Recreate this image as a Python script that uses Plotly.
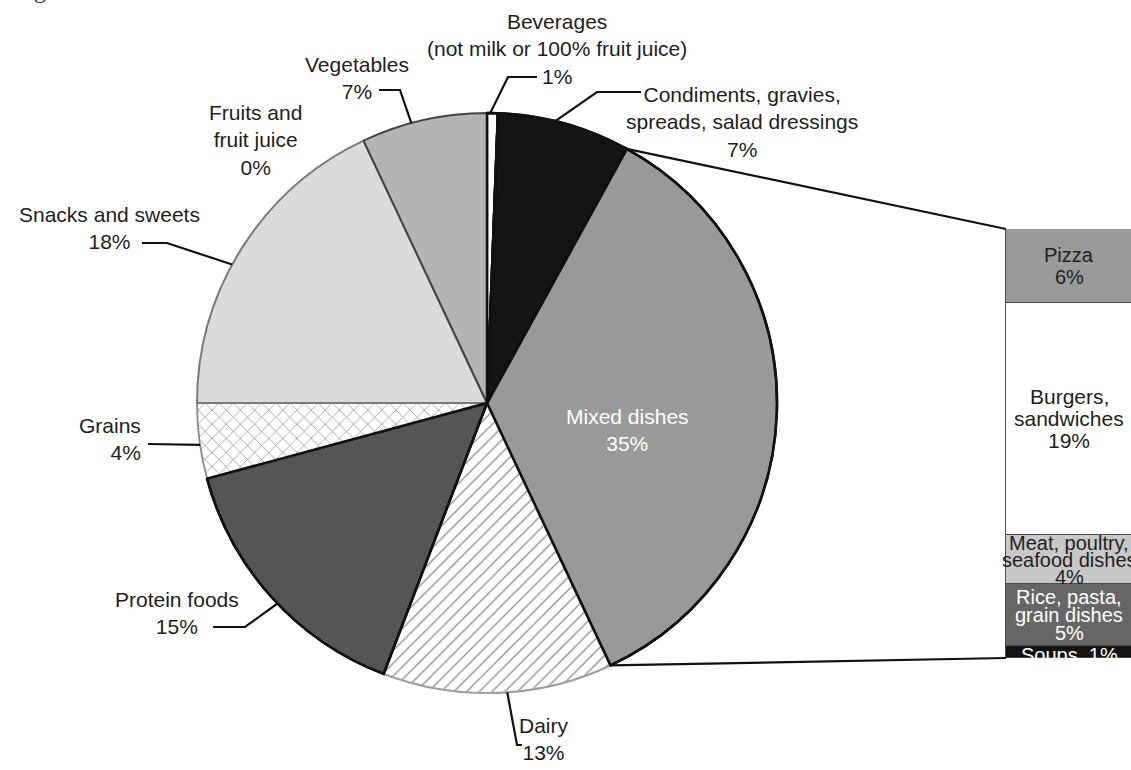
import math
import plotly.graph_objects as go

W, H = 1131, 770

# ---------------- data ----------------
title_text = "Figure 4-13. Food sources of saturated fat"

pie_names = [
    "Beverages<br>(not milk or 100% fruit juice)",
    "Condiments, gravies,<br>spreads, salad dressings",
    "Mixed dishes",
    "Dairy",
    "Protein foods",
    "Grains",
    "Snacks and sweets",
    "Fruits and<br>fruit juice",
    "Vegetables",
]
pie_values = [0.6, 7.4, 35.0, 12.8, 15.0, 4.2, 18.0, 0.0, 7.0]
pie_pct = ["1%", "7%", "35%", "13%", "15%", "4%", "18%", "0%", "7%"]

bar_names = ["Pizza", "Burgers,<br>sandwiches", "Meat, poultry,<br>seafood dishes",
             "Rice, pasta,<br>grain dishes", "Soups,"]
bar_values = [6, 19, 4, 5, 1]
bar_pct = ["6%", "19%", "4%", "5%", "1%"]

# ---------------- styles / layout ----------------
FONT = "Liberation Sans, Arial, sans-serif"
TXT = "#1e1e1e"
pie_fill = ["#ffffff", "#141414", "#999999", "#ffffff", "#555555",
            "#ffffff", "#dcdada", "#dcdada", "#b4b4b4"]
pie_pattern = ["", "", "", "/", "", "x", "", "", ""]
pie_edge = ["#111111", "#111111", "#111111", "#a0a0a0", "#111111",
            "#8a8a8a", "#7a7a7a", "#7a7a7a", "#444444"]
pie_edge_w = [2.5, 2.5, 2.5, 2.2, 2.5, 1.8, 2.0, 2.0, 2.0]
pie_dark_outline = ["#111111", "#111111", "#111111", "rgba(0,0,0,0)", "#111111",
                    "rgba(0,0,0,0)", "rgba(0,0,0,0)", "rgba(0,0,0,0)", "rgba(0,0,0,0)"]

bar_fill = ["#9a9a9a", "#ffffff", "#c8c8c8", "#666666", "#121212"]
bar_txt_color = [TXT, TXT, TXT, "#ffffff", "#ffffff"]
bar_txt_size = [20, 21, 20, 20, 20]
bar_line_gap = [22, 22, 17, 18, 0]
bar_txt_shift = [0, 0, 0, 0, -3]
bar_joiner = ["<br>", "<br>", "<br>", "<br>", " "]

# pie geometry in pixels
CX, CY, R = 487.0, 403.0, 290.0
# bar geometry in pixels
BAR_LEFT, BAR_TOP, BAR_BOTTOM = 1006.0, 229.0, 658.0
BAR_TEXT_X = 1069.0

# label placement (pixel centers) and leader-line elbows
label_pos = {
    0: dict(x=557, y=49, leader=[(537, 77), (508, 77)], f=0.3),
    1: dict(x=742, y=122, leader=[(641, 92), (597, 92)], f=0.43),
    2: dict(x=627, y=430, color="#ffffff"),
    3: dict(x=544, y=739, leader=[(522, 745), (517, 745)], f=0.46),
    4: dict(x=177, y=613, leader=[(213, 627), (245, 627)], f=0.47),
    5: dict(x=143, y=439, anchor="right", leader=[(148, 444)], f=0.45),
    6: dict(x=109, y=228, leader=[(142, 243), (167, 243)], f=0.44),
    7: dict(x=255, y=140),
    8: dict(x=357, y=78, leader=[(379, 90), (400, 90)], f=0.4),
}


def px(x, y):
    return x / W, 1 - y / H


total = sum(pie_values)
starts = []
acc = 0.0
for v in pie_values:
    starts.append(acc)
    acc += v


def arc_point(cum):
    th = 2 * math.pi * cum / total
    return CX + R * math.sin(th), CY - R * math.cos(th)


fig = go.Figure()

pie_domain = dict(x=[(CX - R) / W, (CX + R) / W], y=[1 - (CY + R) / H, 1 - (CY - R) / H])

fig.add_trace(go.Pie(
    labels=[n.replace("<br>", " ") for n in pie_names], values=pie_values,
    sort=False, direction="clockwise", rotation=0,
    domain=pie_domain, textinfo="none", hoverinfo="none", showlegend=False,
    marker=dict(colors=pie_fill,
                line=dict(color=pie_edge, width=pie_edge_w),
                pattern=dict(shape=pie_pattern, fgcolor="#8c8c8c", bgcolor="#ffffff",
                             size=[10, 10, 10, 9, 10, 10, 10, 10, 10],
                             solidity=0.14, fillmode="replace")),
))
fig.add_trace(go.Pie(
    labels=[n.replace("<br>", " ") + " " for n in pie_names], values=pie_values,
    sort=False, direction="clockwise", rotation=0,
    domain=pie_domain, textinfo="none", hoverinfo="none", showlegend=False,
    marker=dict(colors=["rgba(0,0,0,0)"] * len(pie_values),
                line=dict(color=pie_dark_outline, width=2.5)),
))

# stacked bar (bottom to top)
bar_total = sum(bar_values)
X_RANGE = [-0.6, 0.4]
frac = (-0.5 - X_RANGE[0]) / (X_RANGE[1] - X_RANGE[0])
d0 = (BAR_LEFT - frac * W) / (1 - frac)
for i in reversed(range(len(bar_values))):
    fig.add_trace(go.Bar(
        x=[0], y=[bar_values[i]], width=1, name=bar_names[i].replace("<br>", " "),
        marker=dict(color=bar_fill[i], line=dict(color="#4a4a4a", width=1)),
        hoverinfo="none", showlegend=False, xaxis="x", yaxis="y",
    ))

annotations = []
shapes = []

# pie labels
for i, name in enumerate(pie_names):
    lp = label_pos[i]
    x, y = px(lp["x"], lp["y"])
    anchor = lp.get("anchor", "center")
    annotations.append(dict(
        x=x, y=y, xref="paper", yref="paper", xanchor=anchor, yanchor="middle",
        align=anchor if anchor != "center" else "center",
        text=name + "<br>" + pie_pct[i], showarrow=False,
        font=dict(family=FONT, size=21, color=lp.get("color", TXT)),
    ))
    if "leader" in lp:
        pts = list(lp["leader"]) + [arc_point(starts[i] + lp["f"] * pie_values[i])]
        path = ""
        for k, (a, b) in enumerate(pts):
            u, w = px(a, b)
            path += ("M" if k == 0 else " L") + f"{u:.5f},{w:.5f}"
        shapes.append(dict(type="path", xref="paper", yref="paper", path=path,
                           line=dict(color="#111111", width=2.2), layer="above"))

# bar labels (line by line)
bottom = 0.0
mids = [0.0] * len(bar_values)
for i in reversed(range(len(bar_values))):
    mids[i] = bottom + bar_values[i] / 2
    bottom += bar_values[i]
for i, name in enumerate(bar_names):
    if bar_joiner[i] == " ":
        lines = [name + " " + bar_pct[i]]
    else:
        lines = name.split("<br>") + [bar_pct[i]]
    n = len(lines)
    for k, ln in enumerate(lines):
        shift = (n - 1) / 2 * bar_line_gap[i] - k * bar_line_gap[i] + bar_txt_shift[i]
        annotations.append(dict(
            x=BAR_TEXT_X / W, y=mids[i], xref="paper", yref="y",
            xanchor="center", yanchor="middle", yshift=shift,
            text=ln, showarrow=False,
            font=dict(family=FONT, size=bar_txt_size[i], color=bar_txt_color[i]),
        ))

# connector lines between the exploded slice and the bar
mixed = 2
p_top = arc_point(starts[mixed])
p_bot = arc_point(starts[mixed] + pie_values[mixed])
for (a, b), yb in ((p_top, BAR_TOP), (p_bot, BAR_BOTTOM)):
    u0, v0 = px(a, b)
    u1, v1 = px(BAR_LEFT, yb)
    shapes.append(dict(type="line", xref="paper", yref="paper", x0=u0, y0=v0, x1=u1, y1=v1,
                       line=dict(color="#111111", width=2.2), layer="above"))

# cut-off figure title at the very top
annotations.append(dict(
    x=12 / W, y=1, xref="paper", yref="paper", xanchor="left", yanchor="bottom",
    yshift=-5, text=title_text, showarrow=False,
    font=dict(family="Liberation Serif, Times New Roman, serif", size=24, color="#333333"),
))

fig.update_layout(
    width=W, height=H, margin=dict(l=0, r=0, t=0, b=0),
    paper_bgcolor="#ffffff", plot_bgcolor="rgba(0,0,0,0)",
    barmode="stack", bargap=0,
    xaxis=dict(domain=[d0 / W, 1], range=X_RANGE, visible=False, fixedrange=True),
    yaxis=dict(domain=[1 - BAR_BOTTOM / H, 1 - BAR_TOP / H], range=[0, bar_total],
               visible=False, fixedrange=True),
    annotations=annotations, shapes=shapes,
)

fig.write_html(
    "out.html",
    config={"displayModeBar": False},
    post_script="document.body.style.margin='0';document.body.style.overflow='hidden';",
)
